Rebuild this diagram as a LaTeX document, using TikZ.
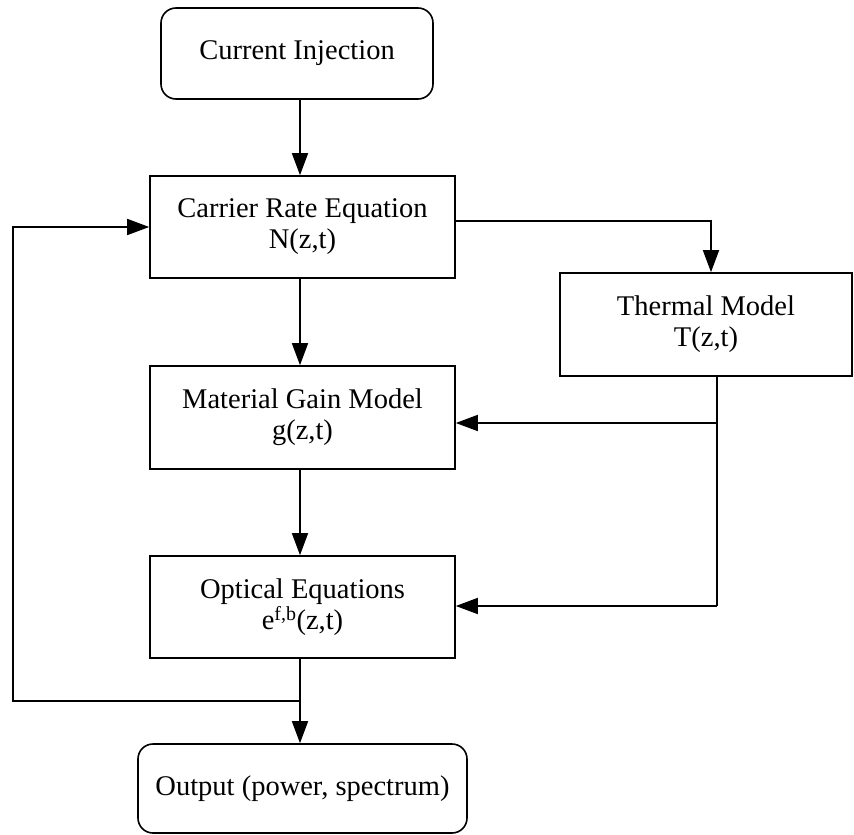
\documentclass[tikz,border=0pt]{standalone}
\usepackage{fontspec}
\setmainfont{Liberation Serif}
\usetikzlibrary{arrows.meta}
\tikzset{
  blk/.style={draw, line width=1.6pt, inner sep=0pt, align=center,
    font=\fontsize{28.5}{31}\selectfont},
  rblk/.style={blk, rounded corners=15pt},
  conn/.style={line width=1.6pt},
  arr/.style={conn, -{Triangle[length=22pt,width=16pt]}}
}
\begin{document}
\begin{tikzpicture}[x=1pt,y=-1pt]
\useasboundingbox (0,0) rectangle (854,835);
\node[rblk, minimum width=272pt, minimum height=91pt] (ci) at (297,53.5) {Current Injection};
\node[blk, minimum width=305pt, minimum height=102pt] (cre) at (302.5,227) {Carrier Rate Equation\\N(z,t)};
\node[blk, minimum width=292pt, minimum height=103pt] (tm) at (706,324.5) {Thermal Model\\T(z,t)};
\node[blk, minimum width=305pt, minimum height=103pt] (mgm) at (302.5,417.5) {Material Gain Model\\g(z,t)};
\node[blk, minimum width=305pt, minimum height=102pt] (oe) at (302.5,607) {Optical Equations\\e\textsuperscript{f,b}(z,t)};
\node[rblk, minimum width=329pt, minimum height=89pt] (out) at (302.5,788.5) {Output (power, spectrum)};

\coordinate (cx) at (300,0);
\coordinate (split) at (300,701);
\coordinate (tdrop) at (717,0);
\coordinate (tmid) at (717,423);
\coordinate (tlow) at (717,606);

\draw[arr] (ci.south -| cx) -- (cre.north -| cx);
\draw[arr] (cre.south -| cx) -- (mgm.north -| cx);
\draw[arr] (mgm.south -| cx) -- (oe.north -| cx);
\draw[arr] (oe.south -| cx) -- (out.north -| cx);

\draw[arr] ([yshift=6pt]cre.east) -| ([xshift=5pt]tm.north);
\draw[conn] (tm.south -| tdrop) -- (tlow);
\draw[arr] (tmid) -- (mgm.east |- tmid);
\draw[arr] (tlow) -- (oe.east |- tlow);

\draw[arr] (split) -- (13,701) -- (13,227) -- (cre.west);
\end{tikzpicture}
\end{document}
